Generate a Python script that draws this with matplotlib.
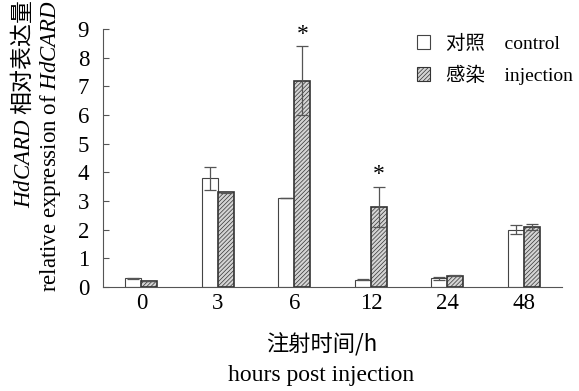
import numpy as np
import matplotlib
matplotlib.use("Agg")
import matplotlib.pyplot as plt
from matplotlib.patches import Patch

plt.rcParams['font.family'] = ['Liberation Serif', 'Noto Sans CJK SC']
plt.rcParams['mathtext.fontset'] = 'custom'
plt.rcParams['mathtext.it'] = 'Liberation Serif:italic'
plt.rcParams['mathtext.rm'] = 'Liberation Serif'
plt.rcParams['hatch.linewidth'] = 0.5

# data
hours = ['0', '3', '6', '12', '24', '48']
control = [0.3, 3.8, 3.1, 0.25, 0.3, 2.0]
control_err = [0.03, 0.4, 0.0, 0.02, 0.05, 0.15]
injection = [0.2, 3.3, 7.2, 2.8, 0.4, 2.1]
injection_err = [0.0, 0.02, 1.2, 0.7, 0.03, 0.1]
signif = [False, False, True, True, False, False]

fig = plt.figure(figsize=(5.79, 3.91), dpi=100)
ax = fig.add_axes([0.178, 0.266, 0.793, 0.66])

x = np.arange(len(hours))
w = 0.21
ax.bar(x - w / 2, control, w, color='white', edgecolor='#444444', linewidth=0.8)
ax.bar(x + w / 2, injection, w, color='#d4d4d4', edgecolor='#333333',
       linewidth=1.2, hatch='////////')
ax.errorbar(x - w / 2, control, yerr=control_err, fmt='none', ecolor='#555555',
            elinewidth=0.9, capsize=4, capthick=0.9)
ax.errorbar(x + w / 2, injection, yerr=injection_err, fmt='none', ecolor='#555555',
            elinewidth=0.9, capsize=4, capthick=0.9)

for i, s in enumerate(signif):
    if s:
        ax.text(x[i] + w / 2, injection[i] + injection_err[i] + 0.42, '*',
                ha='center', va='center', fontsize=17)

ax.set_xlim(-0.5, len(hours) - 0.5)
ax.set_ylim(0, 9)
ax.set_yticks(range(10))
ax.set_xticks(x)
ax.set_xticklabels(hours)
ax.tick_params(axis='y', direction='in', length=4, labelsize=16.5, color='#555555', pad=10)
ax.tick_params(axis='x', length=0, labelsize=16.5, pad=4)
ax.spines['top'].set_visible(False)
ax.spines['right'].set_visible(False)
ax.spines['left'].set_color('#555555')
ax.spines['bottom'].set_color('#555555')

fig.text(0.555, 0.118, '注射时间/h', ha='center', va='center', fontsize=16,
         family=['Noto Sans CJK SC'])
fig.text(0.555, 0.04, 'hours post injection', ha='center', va='center', fontsize=17)

fig.text(0.038, 0.734, '$HdCARD$ 相对表达量', rotation=90, ha='center', va='center',
         fontsize=16.5, family=['Noto Sans CJK SC'])
fig.text(0.088, 0.627, 'relative expression of $HdCARD$', rotation=90, ha='center',
         va='center', fontsize=16.5)

handles = [Patch(facecolor='white', edgecolor='#444444', linewidth=0.8),
           Patch(facecolor='#d4d4d4', edgecolor='#333333', hatch='////////', linewidth=0.8)]
ax.legend(handles, ['对照    control', '感染    injection'], loc='upper right',
          bbox_to_anchor=(1.061, 1.045), frameon=False, fontsize=14,
          handlelength=0.7, handleheight=0.7, handletextpad=0.8, labelspacing=0.6)

fig.savefig('out.png', dpi=100)
